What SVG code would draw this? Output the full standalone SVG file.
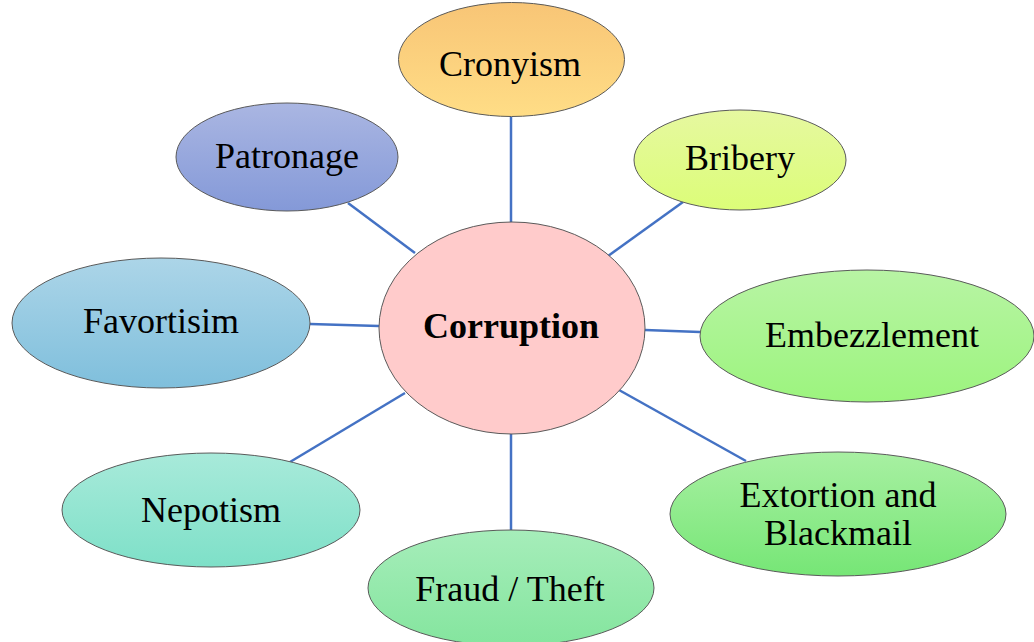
<svg xmlns="http://www.w3.org/2000/svg" width="1034" height="642" viewBox="0 0 1034 642">
  <style>
    .node { stroke: #5a5a5a; stroke-width: 1; }
    .label { font-family: "Liberation Serif", "Times New Roman", serif; font-size: 36px; fill: #000; text-anchor: middle; }
    .hub { font-weight: bold; }
    .link { stroke: #4472c4; stroke-width: 2.5; fill: none; }
  </style>
  <defs>
    <linearGradient id="gCrony" x1="0" y1="0" x2="0" y2="1"><stop offset="0" stop-color="#f8c576"/><stop offset="1" stop-color="#ffdd86"/></linearGradient>
    <linearGradient id="gPatron" x1="0" y1="0" x2="0" y2="1"><stop offset="0" stop-color="#aab6e2"/><stop offset="1" stop-color="#8499d8"/></linearGradient>
    <linearGradient id="gBribe" x1="0" y1="0" x2="0" y2="1"><stop offset="0" stop-color="#e6f8a0"/><stop offset="1" stop-color="#dcfd78"/></linearGradient>
    <linearGradient id="gFavor" x1="0" y1="0" x2="0" y2="1"><stop offset="0" stop-color="#acd5e8"/><stop offset="1" stop-color="#7fbfdc"/></linearGradient>
    <linearGradient id="gEmbez" x1="0" y1="0" x2="0" y2="1"><stop offset="0" stop-color="#b8f4a4"/><stop offset="1" stop-color="#9cf47e"/></linearGradient>
    <linearGradient id="gNepot" x1="0" y1="0" x2="0" y2="1"><stop offset="0" stop-color="#a8eada"/><stop offset="1" stop-color="#7ee0c8"/></linearGradient>
    <linearGradient id="gFraud" x1="0" y1="0" x2="0" y2="1"><stop offset="0" stop-color="#a6edba"/><stop offset="1" stop-color="#84e59e"/></linearGradient>
    <linearGradient id="gExtort" x1="0" y1="0" x2="0" y2="1"><stop offset="0" stop-color="#a8f0a2"/><stop offset="1" stop-color="#76e676"/></linearGradient>
  </defs>
  <rect width="1034" height="642" fill="#ffffff"/>

  <!-- spokes from the hub to each outer node -->
  <g id="connectors">
    <line class="link" x1="511" y1="117" x2="511" y2="222"/>
    <line class="link" x1="348" y1="203" x2="415" y2="253"/>
    <line class="link" x1="683" y1="202" x2="608" y2="256"/>
    <line class="link" x1="310" y1="324" x2="379" y2="326"/>
    <line class="link" x1="645" y1="330" x2="700" y2="332"/>
    <line class="link" x1="290" y1="462" x2="405" y2="393"/>
    <line class="link" x1="511" y1="434" x2="511" y2="530"/>
    <line class="link" x1="619" y1="390" x2="746" y2="461"/>
  </g>

  <g id="cronyism">
    <ellipse class="node" cx="511.5" cy="59.5" rx="113" ry="57" fill="url(#gCrony)"/>
    <text class="label" x="510" y="76">Cronyism</text>
  </g>
  <g id="patronage">
    <ellipse class="node" cx="287" cy="157" rx="111" ry="54" fill="url(#gPatron)"/>
    <text class="label" x="287" y="168">Patronage</text>
  </g>
  <g id="bribery">
    <ellipse class="node" cx="740" cy="160" rx="106" ry="50" fill="url(#gBribe)"/>
    <text class="label" x="740" y="170">Bribery</text>
  </g>
  <g id="corruption">
    <ellipse class="node" cx="512" cy="328" rx="133" ry="106" fill="#ffcbcb"/>
    <text class="label hub" x="511" y="338">Corruption</text>
  </g>
  <g id="favortisim">
    <ellipse class="node" cx="161" cy="323" rx="149" ry="65" fill="url(#gFavor)"/>
    <text class="label" x="161" y="333">Favortisim</text>
  </g>
  <g id="embezzlement">
    <ellipse class="node" cx="867" cy="336" rx="167" ry="66" fill="url(#gEmbez)"/>
    <text class="label" x="872" y="347">Embezzlement</text>
  </g>
  <g id="nepotism">
    <ellipse class="node" cx="211" cy="510" rx="149" ry="57" fill="url(#gNepot)"/>
    <text class="label" x="211" y="522">Nepotism</text>
  </g>
  <g id="fraud-theft">
    <ellipse class="node" cx="511" cy="588" rx="143" ry="58" fill="url(#gFraud)"/>
    <text class="label" x="510" y="601">Fraud / Theft</text>
  </g>
  <g id="extortion-blackmail">
    <ellipse class="node" cx="838" cy="514" rx="168" ry="62" fill="url(#gExtort)"/>
    <text class="label" x="838" y="507">Extortion and</text>
    <text class="label" x="838" y="545">Blackmail</text>
  </g>
</svg>
